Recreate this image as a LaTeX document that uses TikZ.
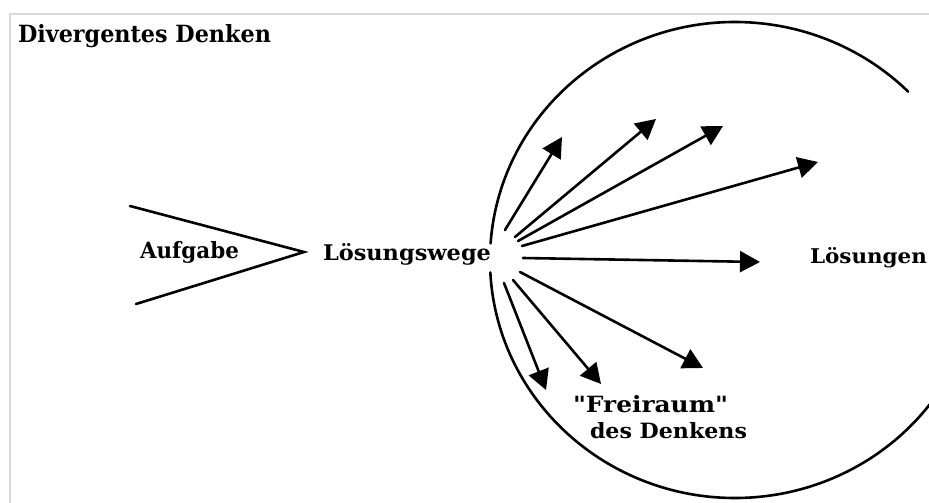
\documentclass[tikz,border=0pt]{standalone}
\usepackage{fontspec}
\usepackage{graphicx}
\setmainfont{DejaVu Serif}
\usetikzlibrary{arrows.meta}

% label stretched to a given width and ascender height, set on its baseline
\newcommand{\fitlabel}[3]{\resizebox{#1}{#2}{\bfseries #3}}
% straight double quote, bypassing the TeX quote mapping
\newcommand{\straightquote}{\XeTeXglyph\XeTeXcharglyph"0022\relax}

\tikzset{
  frameline/.style={draw=black!15, line width=1.2pt},
  ink/.style={line width=2.6pt, line cap=round},
  ray/.style={ink, -{Triangle[length=20pt,width=21pt]}},
  lbl/.style={anchor=base west, inner sep=0pt, outer sep=0pt},
}

\begin{document}
\begin{tikzpicture}[x=1pt,y=-1pt]
  \useasboundingbox (0,0) rectangle (929,503);
  \clip (0,0) rectangle (929,503);

  % page frame
  \draw[frameline] (10,503) -- (10,14) -- (929,14);

  % title
  \node[lbl] (title) at (18,43) {\fitlabel{253pt}{18pt}{Divergentes Denken}};

  % funnel of the task
  \coordinate (vtop) at (130,206);
  \coordinate (vbot) at (136,304);
  \coordinate (vtip) at (304,252);
  \draw[ink] (vtop) -- (vtip) -- (vbot);

  \node[lbl] (aufgabe) at (140,258) {\fitlabel{99pt}{17pt}{Aufgabe}};
  \node[lbl] (wege) at (323,260) {\fitlabel{168pt}{17pt}{Lösungswege}};
  \node[lbl] (loesungen) at (810,263) {\fitlabel{117pt}{16pt}{Lösungen}};
  \node[lbl] (frei) at (573,412) {\fitlabel{155pt}{17pt}{\straightquote Freiraum\straightquote}};
  \node[lbl] (denk) at (590,438) {\fitlabel{157pt}{16pt}{des Denkens}};

  % solution space: ellipse centred at (735,260), open at the left and upper right
  \coordinate (mid) at (735,260);
  \draw[ink] (mid) ++(184:245 and 238) arc[start angle=184, end angle=315, x radius=245, y radius=238];
  \draw[ink] (mid) ++(177:245 and 238) arc[start angle=177, end angle=25, x radius=245, y radius=238];

  % rays leaving the solution paths
  \coordinate (s1) at (505,230); \coordinate (t1) at (562,137);
  \coordinate (s2) at (515,237); \coordinate (t2) at (656,119);
  \coordinate (s3) at (518,241); \coordinate (t3) at (723,126);
  \coordinate (s4) at (522,246); \coordinate (t4) at (818,162);
  \coordinate (s5) at (523,258); \coordinate (t5) at (760,262);
  \coordinate (s6) at (520,272); \coordinate (t6) at (703,368);
  \coordinate (s7) at (513,280); \coordinate (t7) at (601,384);
  \coordinate (s8) at (504,283); \coordinate (t8) at (546,390);
  \foreach \i in {1,...,8} \draw[ray] (s\i) -- (t\i);
\end{tikzpicture}
\end{document}
